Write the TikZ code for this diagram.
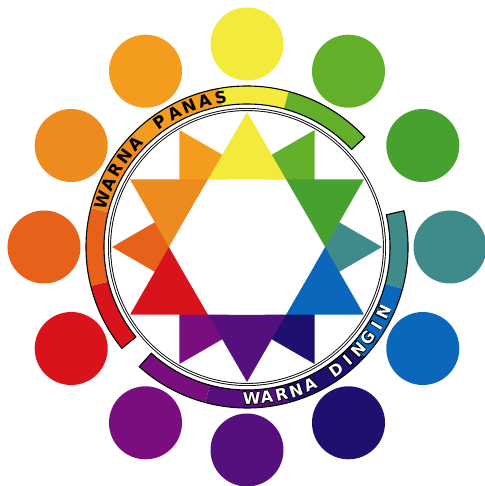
\documentclass[tikz,border=0pt]{standalone}
\usepackage{fontspec}
\usepackage{xcolor}
\usepackage{contour}
\usetikzlibrary{calc}
\newfontfamily\bandfont{DejaVu Sans}
\contourlength{0.8pt}
\contournumber{8}

\definecolor{cyellow}{HTML}{F4EA3B}
\definecolor{cyelgreen}{HTML}{64AF2A}
\definecolor{cgreen}{HTML}{46A12E}
\definecolor{cteal}{HTML}{3F8B89}
\definecolor{cblue}{HTML}{0A67BC}
\definecolor{cindigo}{HTML}{1F0F6F}
\definecolor{cviolet}{HTML}{55107E}
\definecolor{cpurple}{HTML}{7A0E7E}
\definecolor{cred}{HTML}{D9131B}
\definecolor{credorange}{HTML}{E8611A}
\definecolor{corange}{HTML}{EE8B1F}
\definecolor{camber}{HTML}{F39C1E}

\begin{document}
\begin{tikzpicture}[x=1pt, y=1pt,
    dot/.style={circle, minimum size=73pt, inner sep=0pt},
    ring/.style={draw=black, line width=0.9pt, double=white, double distance=1.2pt},
    bandline/.style={draw=black, line width=1.1pt},
    warmletter/.style={font=\bandfont\bfseries\fontsize{16.5}{17}\selectfont, text=black, inner sep=0pt},
    coolletter/.style={font=\bandfont\bfseries\fontsize{16}{17}\selectfont, text=white, inner sep=0pt}]

    \useasboundingbox (-247,-239) rectangle (237,247);

    % twelve colour dots
    \foreach \ang/\col [count=\i] in {90/cyellow, 60/cyelgreen, 30/cgreen, 0/cteal, -30/cblue, -60/cindigo,
        -90/cviolet, -120/cpurple, -150/cred, 180/credorange, 150/corange, 120/camber}
        \node [dot, fill=\col] (dot\i) at (\ang:203) {};

    % star points, back then front
    \foreach \ang/\col in {120/camber, 60/cyelgreen, 0/cteal, -60/cindigo, -120/cpurple, 180/credorange}
        \fill [\col] (\ang:135) -- (\ang+30:78) -- (\ang-30:78) -- cycle;
    \foreach \ang/\col in {90/cyellow, 30/cgreen, -30/cblue, -90/cviolet, -150/cred, 150/corange}
        \fill [\col] (\ang:135) -- (\ang+30:78) -- (\ang-30:78) -- cycle;
    \fill [white] (0:78) -- (60:78) -- (120:78) -- (180:78) -- (240:78) -- (300:78) -- cycle;

    \draw [ring] (0,0) circle (137.5);

    % warm band
    \foreach \a/\b/\col in {194/219/cred, 166/194/credorange, 135/166/corange, 100/135/camber, 75/100/cyellow, 43/75/cyelgreen}
        \fill [\col] (\a:143) arc [start angle=\a, end angle=\b, radius=143] -- (\b:161) arc [start angle=\b, end angle=\a, radius=161] -- cycle;
    \draw [bandline] (43:143) arc [start angle=43, end angle=219, radius=143] -- (219:161) arc [start angle=219, end angle=43, radius=161] -- cycle;

    % cool band
    \foreach \a/\b/\col in {-15/13/cteal, -43/-15/cblue, -75/-43/cindigo, -105/-75/cviolet, -132/-105/cpurple}
        \fill [\col] (\a:143) arc [start angle=\a, end angle=\b, radius=143] -- (\b:161) arc [start angle=\b, end angle=\a, radius=161] -- cycle;
    \draw [bandline] (-132:143) arc [start angle=-132, end angle=13, radius=143] -- (13:161) arc [start angle=13, end angle=-132, radius=161] -- cycle;

    % band lettering
    \foreach \k/\ch in {0/W, 1/A, 2/R, 3/N, 4/A, 6/P, 7/A, 8/N, 9/A, 10/S} {
        \pgfmathsetmacro{\ang}{162-\k*6.2}
        \node [warmletter, rotate=\ang-90] (panas\k) at (\ang:152) {\ch};
    }
    \foreach \k/\ch in {0/W, 1/A, 2/R, 3/N, 4/A, 6/D, 7/I, 8/N, 9/G, 10/I, 11/N} {
        \pgfmathsetmacro{\ang}{-88.2+\k*5.7}
        \node [coolletter, rotate=\ang+90] (dingin\k) at (\ang:152) {\contour{black}{\ch}};
    }
\end{tikzpicture}
\end{document}
